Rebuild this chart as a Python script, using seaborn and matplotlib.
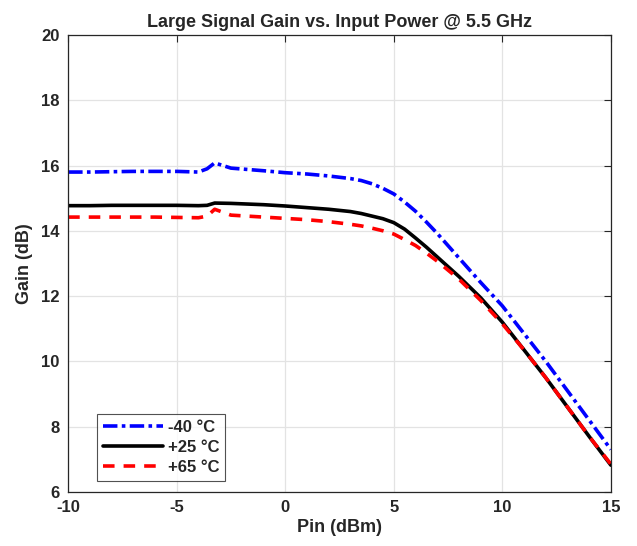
import pandas as pd
import matplotlib.pyplot as plt
import seaborn as sns

# Datos (Pin en dBm, ganancia en dB)
pin = [-10, -9, -8, -7, -6, -5, -4, -3.6, -3.25, -2.5, -1, 0, 1, 2, 3, 3.5, 4, 4.5, 5, 5.5, 6, 6.5, 7, 8, 9, 10, 11, 12, 13, 14, 15]
gain_m40 = [15.8, 15.8, 15.81, 15.82, 15.82, 15.82, 15.8, 15.9, 16.08, 15.92, 15.84, 15.78, 15.74, 15.68, 15.6, 15.54, 15.44, 15.3, 15.13, 14.88, 14.6, 14.27, 13.92, 13.17, 12.42, 11.7, 10.85, 10.0, 9.1, 8.2, 7.3]
gain_p25 = [14.77, 14.77, 14.78, 14.78, 14.78, 14.78, 14.77, 14.78, 14.85, 14.84, 14.8, 14.76, 14.71, 14.66, 14.59, 14.53, 14.45, 14.37, 14.25, 14.05, 13.78, 13.5, 13.2, 12.6, 11.95, 11.2, 10.35, 9.5, 8.6, 7.7, 6.82]
gain_p65 = [14.42, 14.42, 14.42, 14.42, 14.42, 14.41, 14.4, 14.45, 14.66, 14.48, 14.42, 14.38, 14.34, 14.28, 14.2, 14.15, 14.08, 14.0, 13.9, 13.73, 13.55, 13.32, 13.07, 12.52, 11.87, 11.15, 10.35, 9.5, 8.6, 7.7, 6.85]

series = ['-40 °C', '+25 °C', '+65 °C']
colores = ['#0000ff', '#000000', '#ff0000']
estilos = [(0, (4, 1.2, 1, 1.2)), '-', (0, (3.2, 2.5))]

df = pd.concat([
    pd.DataFrame({'Pin': pin, 'Gain': g, 'Temp': s})
    for g, s in zip([gain_m40, gain_p25, gain_p65], series)
])

sns.set_style('whitegrid')
plt.rcParams['font.family'] = ['Liberation Sans', 'DejaVu Sans']
plt.rcParams['font.weight'] = 'bold'
plt.rcParams['axes.unicode_minus'] = False

fig = plt.figure(figsize=(6.37, 5.46), dpi=100)
ax = fig.add_axes([0.107, 0.099, 0.852, 0.837])

for s, c, ls in zip(series, colores, estilos):
    sns.lineplot(data=df[df['Temp'] == s], x='Pin', y='Gain', color=c,
                 linestyle=ls, linewidth=2.6, label=s, ax=ax)

ax.set_xlim(-10, 15)
ax.set_ylim(6, 20)
ax.set_xticks([-10, -5, 0, 5, 10, 15])
ax.set_yticks(range(6, 21, 2))
ax.grid(True, color='#e3e3e3', linewidth=0.9)
for sp in ax.spines.values():
    sp.set_color('#262626')
    sp.set_linewidth(0.9)
ax.tick_params(direction='in', length=5, width=0.8, color='#262626',
               top=True, right=True, labelsize=12, pad=6)
for lab in ax.get_xticklabels() + ax.get_yticklabels():
    lab.set_fontweight('bold')
    lab.set_color('#262626')

ax.set_title('Large Signal Gain vs. Input Power @ 5.5 GHz', fontsize=13, fontweight='bold', pad=6)
ax.set_xlabel('Pin (dBm)', fontsize=13, fontweight='bold', labelpad=3)
ax.set_ylabel('Gain (dB)', fontsize=13, fontweight='bold', labelpad=6)

leg = ax.legend(loc='lower left', bbox_to_anchor=(0.053, 0.024), fontsize=12, frameon=True,
                fancybox=False, edgecolor='#262626', handlelength=3.6, handletextpad=0.3,
                borderpad=0.35, labelspacing=0.3, borderaxespad=0)
leg.get_frame().set_linewidth(0.8)
for t in leg.get_texts():
    t.set_fontweight('bold')

plt.savefig('out.png', dpi=100)
